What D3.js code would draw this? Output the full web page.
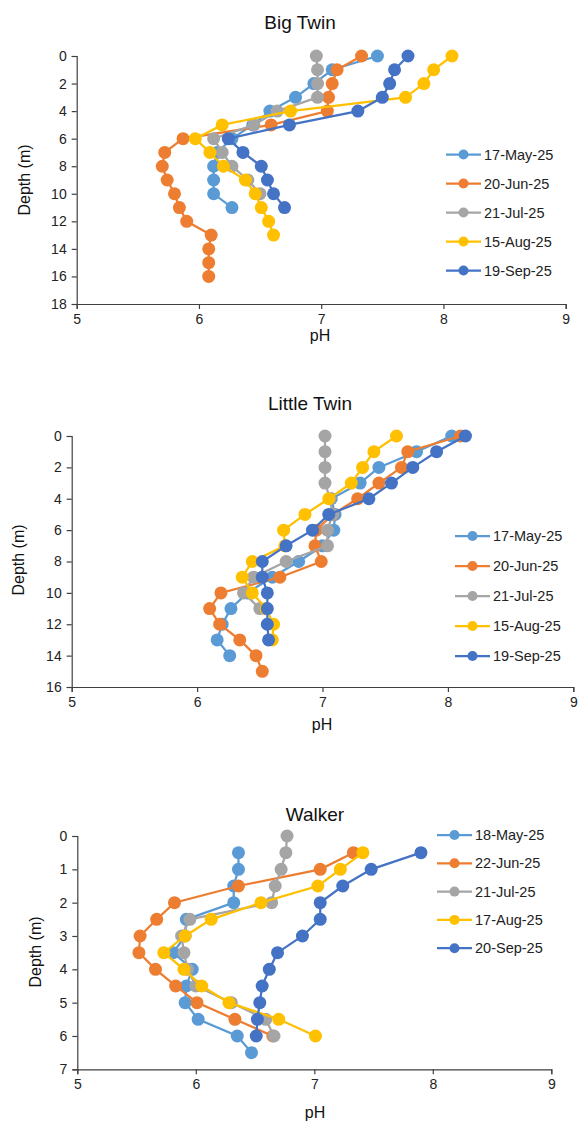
<!DOCTYPE html>
<html><head><meta charset="utf-8">
<script src="https://cdn.jsdelivr.net/npm/d3@7/dist/d3.min.js"></script>
<style>body{margin:0;background:#fff}svg{display:block;font-family:"Liberation Sans",Arial,sans-serif}</style>
</head><body>
<svg id="c" width="583" height="1125"></svg>
<script>
// ---------- DATA ----------
const seriesColors = ["#5B9BD5","#ED7D31","#A5A5A5","#FFC000","#4472C4"];

// Big Twin
const btLabels = ["17-May-25","20-Jun-25","21-Jul-25","15-Aug-25","19-Sep-25"];
const btMayDepth = [0,1,2,3,4,5,6,7,8,9,10,11];
const btMayPH    = [7.46,7.09,6.94,6.79,6.58,6.44,6.27,6.15,6.12,6.12,6.12,6.27];
const btJunDepth = [0,1,2,3,4,5,6,7,8,9,10,11,12,13,14,15,16];
const btJunPH    = [7.33,7.13,7.09,7.06,7.05,6.59,5.87,5.72,5.70,5.74,5.80,5.84,5.90,6.10,6.08,6.08,6.08];
const btJulDepth = [0,1,2,3,4,5,6,7,8,9,10];
const btJulPH    = [6.96,6.97,6.97,6.97,6.64,6.45,6.12,6.19,6.27,6.40,6.50];
const btAugDepth = [0,1,2,3,4,5,6,7,8,9,10,11,12,13];
const btAugPH    = [8.07,7.92,7.84,7.69,6.75,6.19,5.97,6.09,6.20,6.38,6.46,6.51,6.57,6.61];
const btSepDepth = [0,1,2,3,4,5,6,7,8,9,10,11];
const btSepPH    = [7.71,7.60,7.56,7.50,7.30,6.74,6.24,6.36,6.51,6.56,6.61,6.70];
const btYTicks = [0,2,4,6,8,10,12,14,16,18];

// Little Twin
const ltLabels = ["17-May-25","20-Jun-25","21-Jul-25","15-Aug-25","19-Sep-25"];
const ltMayDepth = [0,1,2,3,4,5,6,7,8,9,10,11,12,13,14];
const ltMayPH    = [8.03,7.75,7.45,7.30,7.07,7.10,7.09,7.00,6.81,6.60,6.40,6.27,6.20,6.16,6.26];
const ltJunDepth = [0,1,2,3,4,5,6,7,8,9,10,11,12,13,14,15];
const ltJunPH    = [8.10,7.68,7.63,7.45,7.28,7.08,6.95,6.94,6.99,6.66,6.19,6.10,6.18,6.34,6.47,6.52];
const ltJulDepth = [0,1,2,3,4,5,6,7,8,9,10,11];
const ltJulPH    = [7.02,7.02,7.02,7.02,7.06,7.08,7.04,7.04,6.71,6.45,6.37,6.50];
const ltAugDepth = [0,1,2,3,4,5,6,7,8,9,10,11,12,13];
const ltAugPH    = [7.59,7.41,7.32,7.23,7.05,6.86,6.69,6.70,6.44,6.36,6.44,6.55,6.61,6.60];
const ltSepDepth = [0,1,2,3,4,5,6,7,8,9,10,11,12,13];
const ltSepPH    = [8.14,7.91,7.72,7.55,7.37,7.05,6.92,6.71,6.52,6.52,6.56,6.56,6.56,6.57];
const ltYTicks = [0,2,4,6,8,10,12,14,16];

// Walker
const wkLabels = ["18-May-25","22-Jun-25","21-Jul-25","17-Aug-25","20-Sep-25"];
const wkMayDepth = [0.5,1,1.5,2,2.5,3,3.5,4,4.5,5,5.5,6,6.5];
const wkMayPH    = [6.36,6.36,6.32,6.32,5.92,5.91,5.81,5.97,5.92,5.91,6.02,6.35,6.47];
const wkJunDepth = [0.5,1,1.5,2,2.5,3,3.5,4,4.5,5,5.5,6];
const wkJunPH    = [7.33,7.05,6.36,5.82,5.67,5.53,5.52,5.66,5.83,6.01,6.33,6.65];
const wkJulDepth = [0,0.5,1,1.5,2,2.5,3,3.5,4,4.5,5,5.5,6];
const wkJulPH    = [6.77,6.76,6.72,6.67,6.64,5.95,5.88,5.90,5.93,6.00,6.30,6.59,6.66];
const wkAugDepth = [0.5,1,1.5,2,2.5,3,3.5,4,4.5,5,5.5,6];
const wkAugPH    = [7.41,7.22,7.03,6.55,6.13,5.91,5.73,5.90,6.05,6.28,6.70,7.01];
const wkSepDepth = [0.5,1,1.5,2,2.5,3,3.5,4,4.5,5,5.5,6];
const wkSepPH    = [7.90,7.48,7.24,7.05,7.05,6.90,6.69,6.62,6.56,6.54,6.52,6.51];
const wkYTicks = [0,1,2,3,4,5,6,7];

const xTicks = [5,6,7,8,9];

// ---------- DRAW ----------
const svg = d3.select("#c");
const zip = (d, p) => d.map((v,i)=>({depth:v, ph:p[i]}));

function chart(cfg){
  const g = svg.append("g");
  const x = d3.scaleLinear().domain([5,9]).range([cfg.x0,cfg.x1]);
  const y = d3.scaleLinear().domain([0,cfg.yMax]).range([cfg.y0,cfg.y1]);

  const xa = g.append("g").attr("transform",`translate(0,${cfg.y1})`)
    .call(d3.axisBottom(x).tickValues(xTicks).tickSize(5).tickPadding(5).tickFormat(d3.format("d")));
  const ya = g.append("g").attr("transform",`translate(${cfg.x0},0)`)
    .call(d3.axisLeft(y).tickValues(cfg.yTicks).tickSize(5).tickPadding(5).tickFormat(d3.format("d")));
  [xa,ya].forEach(a=>{
    a.select(".domain").attr("stroke","#404040").attr("stroke-width",1.2);
    a.selectAll(".tick line").attr("stroke","#404040").attr("stroke-width",1.2);
    a.selectAll(".tick text").attr("fill","#222").style("font-size","14px").style("font-family","'Liberation Sans',Arial,sans-serif");
  });

  const line = d3.line().x(d=>x(d.ph)).y(d=>y(d.depth));
  cfg.series.forEach((s,i)=>{
    const data = zip(s[0],s[1]);
    g.append("path").datum(data).attr("d",line).attr("fill","none")
      .attr("stroke",seriesColors[i]).attr("stroke-width",2.25);
    g.selectAll(null).data(data).enter().append("circle")
      .attr("cx",d=>x(d.ph)).attr("cy",d=>y(d.depth)).attr("r",6.5)
      .attr("fill",seriesColors[i]);
  });

  g.append("text").attr("x",cfg.titleX).attr("y",cfg.titleY).attr("text-anchor","middle")
    .style("font-size","19px").attr("fill","#111").text(cfg.title);
  g.append("text").attr("x",cfg.pHX).attr("y",cfg.pHY).attr("text-anchor","middle")
    .style("font-size","16px").attr("fill","#111").text("pH");
  g.append("text").attr("transform",`translate(${cfg.depX},${cfg.depY}) rotate(-90)`)
    .attr("text-anchor","middle").style("font-size","16px").attr("fill","#111").text("Depth (m)");

  const lg = g.append("g");
  cfg.labels.forEach((lab,i)=>{
    const yy = cfg.legY + i*cfg.legStep;
    lg.append("line").attr("x1",cfg.legX).attr("x2",cfg.legX+35).attr("y1",yy).attr("y2",yy)
      .attr("stroke",seriesColors[i]).attr("stroke-width",2.25);
    lg.append("circle").attr("cx",cfg.legX+17.5).attr("cy",yy).attr("r",5).attr("fill",seriesColors[i]);
    lg.append("text").attr("x",cfg.legX+38).attr("y",yy+5).style("font-size","14.5px").attr("fill","#222").text(lab);
  });
}

chart({title:"Big Twin", titleX:300, titleY:29, x0:76.7, x1:565.7, y0:56, y1:304, yMax:18, yTicks:btYTicks,
  pHX:320, pHY:341, depX:30, depY:180,
  labels:btLabels, legX:446, legY:154.5, legStep:29,
  series:[[btMayDepth,btMayPH],[btJunDepth,btJunPH],[btJulDepth,btJulPH],[btAugDepth,btAugPH],[btSepDepth,btSepPH]]});

chart({title:"Little Twin", titleX:310, titleY:410, x0:71.7, x1:573.3, y0:436, y1:687, yMax:16, yTicks:ltYTicks,
  pHX:322, pHY:730, depX:24, depY:560,
  labels:ltLabels, legX:455, legY:536, legStep:30,
  series:[[ltMayDepth,ltMayPH],[ltJunDepth,ltJunPH],[ltJulDepth,ltJulPH],[ltAugDepth,ltAugPH],[ltSepDepth,ltSepPH]]});

chart({title:"Walker", titleX:315, titleY:821, x0:77.3, x1:551.3, y0:836, y1:1069.3, yMax:7, yTicks:wkYTicks,
  pHX:315, pHY:1118, depX:41, depY:952,
  labels:wkLabels, legX:437, legY:835, legStep:28.3,
  series:[[wkMayDepth,wkMayPH],[wkJunDepth,wkJunPH],[wkJulDepth,wkJulPH],[wkAugDepth,wkAugPH],[wkSepDepth,wkSepPH]]});
</script>
</body></html>
